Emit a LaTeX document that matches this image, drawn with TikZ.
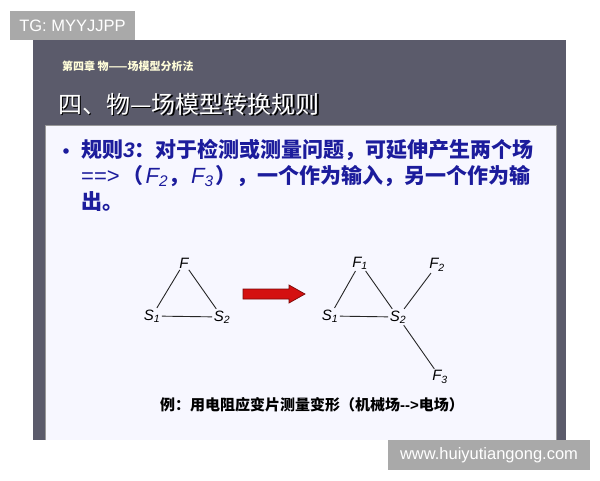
\documentclass[tikz,border=0pt]{standalone}
\usepackage{fontspec}
\setmainfont{Liberation Sans}
\newfontfamily\cjk{Noto Sans CJK SC}
\definecolor{slidegray}{HTML}{5B5B6B}
\definecolor{bodyblue}{HTML}{1C1C9C}
\definecolor{wmgray}{HTML}{A9A9A9}
\definecolor{arrowred}{HTML}{D41010}
\definecolor{arrowdark}{HTML}{7A0A0A}
\tikzset{
  lbl/.style={inner sep=1.5pt, font=\fontsize{15}{15}\selectfont\itshape},
  edge/.style={line width=0.9pt, black!85},
  wm/.style={fill=wmgray, text=white, inner sep=0pt, font=\fontsize{16.5}{16.5}\selectfont},
  bodytxt/.style={anchor=west, text=bodyblue, inner sep=0pt, font=\fontsize{21}{21}\selectfont\cjk\bfseries},
}
\newcommand{\latinpart}[1]{{\fontspec{Liberation Sans}\mdseries\fontsize{22}{22}\selectfont #1}}
\begin{document}
\begin{tikzpicture}[x=1pt,y=-1pt]
\useasboundingbox (0,0) rectangle (600,480);
\fill[white] (0,0) rectangle (600,480);
% slide
\fill[slidegray] (33,40) rectangle (566,440);
\fill[white!97!blue] (45,125) rectangle (556,440);
\draw[black!40, line width=0.6pt] (45,440) -- (45,125) -- (556,125) -- (556,440);
% header
\node[anchor=west, inner sep=0pt, text=yellow!15!white, font=\fontsize{11}{11}\selectfont\cjk\bfseries] (hdr) at (62,66) {第四章 物——场模型分析法};
\node[anchor=west, inner sep=0pt, text=black, font=\fontsize{24}{24}\selectfont\cjk] (titleshadow) at (59.5,105.5) {四、物—场模型转换规则};
\node[anchor=west, inner sep=0pt, text=white, font=\fontsize{24}{24}\selectfont\cjk] (title) at (58,104) {四、物—场模型转换规则};
% bullet text
\fill[bodyblue] (66,151) circle (2.8);
\node[bodytxt] (l1) at (81,150) {规则\textit{\fontspec{Liberation Sans}3}：对于检测或测量问题，可延伸产生两个场};
\node[bodytxt] (l2) at (81,176) {\latinpart{==>}\hspace{3pt}（\hspace{2pt}\latinpart{\itshape F\textsubscript{2}}，\hspace{2pt}\latinpart{\itshape F\textsubscript{3}}\hspace{2pt}），一个作为输入，另一个作为输};
\node[bodytxt] (l3) at (81,202) {出。};
% left diagram
\node[lbl] (F) at (184,263) {F};
\node[lbl] (S1) at (152,316) {S\textsubscript{1}};
\node[lbl] (S2) at (222,317) {S\textsubscript{2}};
\draw[edge] (F) -- (S1);
\draw[edge] (F) -- (S2);
\draw[edge] (S1) -- (S2);
% arrow
\filldraw[draw=arrowdark, fill=arrowred, line width=0.7pt, line join=miter]
  (243,289) -- (289,289) -- (289,285) -- (305,294) -- (289,303) -- (289,299) -- (243,299) -- cycle;
% right diagram
\node[lbl] (F1) at (360,263) {F\textsubscript{1}};
\node[lbl] (R1) at (330,316) {S\textsubscript{1}};
\node[lbl] (R2) at (398,317) {S\textsubscript{2}};
\node[lbl] (F2) at (437,265) {F\textsubscript{2}};
\node[lbl] (F3) at (440,377) {F\textsubscript{3}};
\draw[edge] (F1) -- (R1);
\draw[edge] (F1) -- (R2);
\draw[edge] (R1) -- (R2);
\draw[edge] (R2) -- (F2);
\draw[edge] (R2) -- (F3);
% caption
\node[anchor=west, inner sep=0pt, font=\fontsize{15}{15}\selectfont\cjk\bfseries] (cap) at (160,405) {例：用电阻应变片测量变形（机械场{\fontspec{Liberation Sans}-->}电场）};
% watermarks
\node[wm, minimum width=125pt, minimum height=29pt] (wm1) at (72.5,25.5) {TG: MYYJJPP};
\node[wm, minimum width=202pt, minimum height=30pt] (wm2) at (489,455) {www.huiyutiangong.com};
\end{tikzpicture}
\end{document}
